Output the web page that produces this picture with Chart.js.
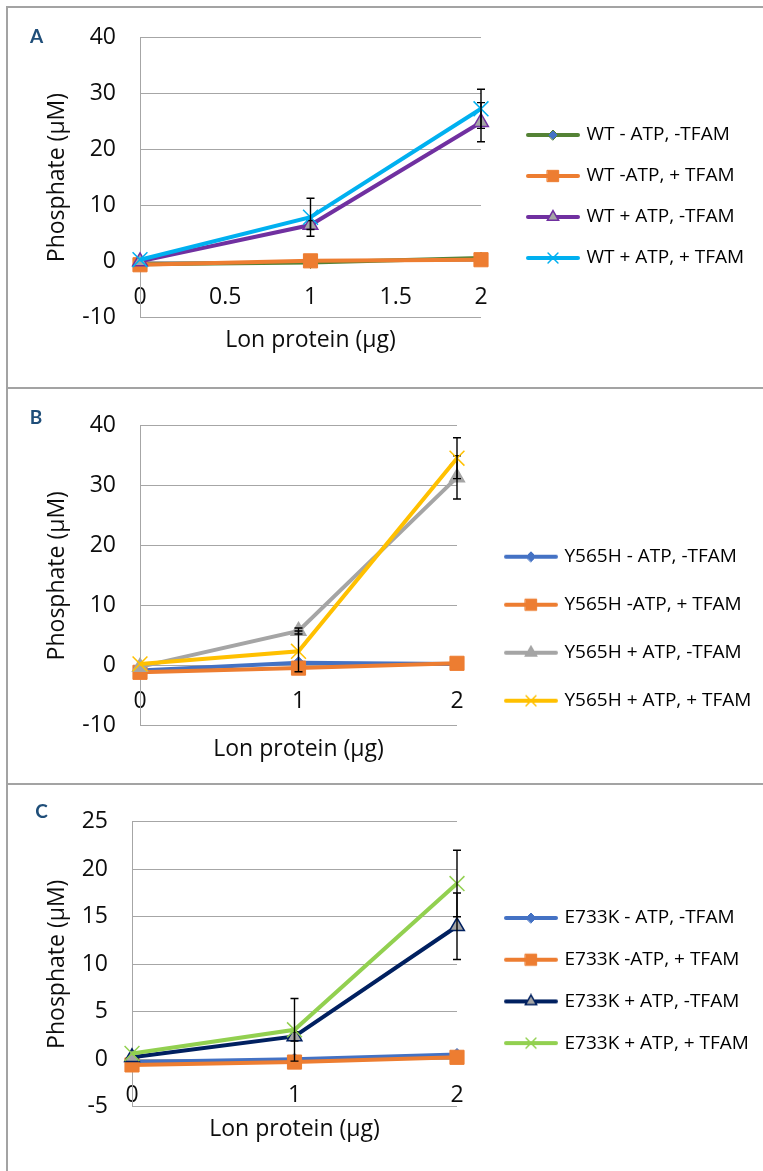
<!DOCTYPE html>
<html>
<head>
<meta charset="utf-8">
<title>Lon ATPase activity</title>
<script src="https://cdn.jsdelivr.net/npm/chart.js@4.4.1/dist/chart.umd.min.js"></script>
<style>
  html, body { margin: 0; padding: 0; background: #fff; }
  #page { position: relative; width: 763px; height: 1171px; overflow: hidden; background: #fff; }
  canvas { position: absolute; left: 0; }
  .rule { position: absolute; background: #a3a3a3; z-index: 2; }
  .tag { position: absolute; z-index: 3; font: bold 19px Lato, "Open Sans", sans-serif; line-height: 19px;
         color: #1f4e79; transform: translate(-50%, -50%); }
</style>
</head>
<body>
<div id="page">
  <canvas id="panelA" width="763" height="388" style="top:0px"></canvas>
  <canvas id="panelB" width="763" height="395" style="top:388px"></canvas>
  <canvas id="panelC" width="763" height="387" style="top:784px"></canvas>

  <div class="rule" style="left:6px; top:6px; width:757px; height:1.5px"></div>
  <div class="rule" style="left:6px; top:6px; width:1.5px; height:1165px"></div>
  <div class="rule" style="left:6px; top:387px; width:757px; height:1.5px"></div>
  <div class="rule" style="left:6px; top:783px; width:757px; height:1.5px"></div>

  <div class="tag" style="left:36.5px; top:35px">A</div>
  <div class="tag" style="left:36px; top:416px">B</div>
  <div class="tag" style="left:41.5px; top:810px">C</div>
</div>

<script>
// ---- amounts of Lon protein on the x axis (µg) ----
const lonProteinUg = [0, 1, 2];

// ---- axis ticks ----
const xTicksA = [0, 0.5, 1, 1.5, 2];
const xTickLabelsA = ['0', '0.5', '1', '1.5', '2'];
const xTicksBC = [0, 1, 2];
const xTickLabelsBC = ['0', '1', '2'];
const yTicksAB = [-10, 0, 10, 20, 30, 40];
const yTickLabelsAB = ['-10', '0', '10', '20', '30', '40'];
const yTicksC = [-5, 0, 5, 10, 15, 20, 25];
const yTickLabelsC = ['-5', '0', '5', '10', '15', '20', '25'];

// ---- panel A: wild type, phosphate released (µM) ----
const wtLabels = ['WT - ATP, -TFAM', 'WT -ATP, + TFAM', 'WT + ATP, -TFAM', 'WT + ATP, + TFAM'];
const wtNoAtpNoTfam = [-0.5, -0.2, 0.6];
const wtNoAtpTfam   = [-0.6, 0.1, 0.3];
const wtAtpNoTfam   = [0.0, 6.5, 24.9];
const wtAtpTfam     = [0.3, 7.9, 27.3];
const wtAtpNoTfamErr = [0, 0.8, 3.5];
const wtAtpTfamErr   = [0, 3.4, 3.5];

// ---- panel B: Y565H ----
const y565hLabels = ['Y565H - ATP, -TFAM', 'Y565H -ATP, + TFAM', 'Y565H + ATP, -TFAM', 'Y565H + ATP, + TFAM'];
const y565hNoAtpNoTfam = [-0.8, 0.5, 0.3];
const y565hNoAtpTfam   = [-1.1, -0.4, 0.4];
const y565hAtpNoTfam   = [-0.2, 5.8, 31.4];
const y565hAtpTfam     = [0.3, 2.4, 34.6];
const y565hAtpNoTfamErr = [0, 0.5, 3.6];
const y565hAtpTfamErr   = [0, 3.4, 3.4];

// ---- panel C: E733K ----
const e733kLabels = ['E733K - ATP, -TFAM', 'E733K -ATP, + TFAM', 'E733K + ATP, -TFAM', 'E733K + ATP, + TFAM'];
const e733kNoAtpNoTfam = [-0.3, 0.0, 0.5];
const e733kNoAtpTfam   = [-0.6, -0.3, 0.2];
const e733kAtpNoTfam   = [0.2, 2.4, 14.0];
const e733kAtpTfam     = [0.6, 3.1, 18.5];
const e733kAtpNoTfamErr = [0, 0.5, 3.5];
const e733kAtpTfamErr   = [0, 3.3, 3.5];

// ---- styling ----
const FONT = '"Open Sans", Lato, sans-serif';
const AXIS_SIZE = 23;
const LEGEND_SIZE = 19;
const GRID = '#a6a6a6';
const INK = '#0d0d0d';
const GREY_FILL = '#a5a5a5';

function diamond(fill, stroke) { return { style: 'rectRot', r: 6, legendR: 5, fill, stroke, bw: 1 }; }
function square(c) { return { style: 'rect', r: 10, legendR: 8, fill: c, stroke: c, bw: 1 }; }
function triangle(fill, stroke) { return { style: 'triangle', r: 8.5, legendR: 6.5, fill, stroke, bw: 1.5 }; }
function cross(c) { return { style: 'crossRot', r: 10.5, legendR: 7, fill: c, stroke: c, bw: 1.5 }; }

// line + marker swatch used by the legend
function legendSwatch(color, m) {
  const c = document.createElement('canvas');
  c.width = 54; c.height = 16;
  const g = c.getContext('2d');
  g.strokeStyle = color; g.lineWidth = 4; g.lineCap = 'round';
  g.beginPath(); g.moveTo(2, 8); g.lineTo(52, 8); g.stroke();
  g.fillStyle = m.fill; g.strokeStyle = m.stroke; g.lineWidth = m.bw;
  Chart.helpers.drawPoint(g, { pointStyle: m.style, radius: m.legendR, rotation: 0, borderWidth: m.bw }, 27, 8);
  return c;
}

// vertical error bars, painted right after their own series
const errorBarPlugin = {
  id: 'errorBars',
  afterDatasetDraw(chart, args) {
    const ds = chart.data.datasets[args.index];
    if (!ds.errorBars) return;
    const { ctx } = chart;
    const xs = chart.scales.x, ys = chart.scales.y;
    ctx.save();
    ctx.strokeStyle = '#000';
    ctx.lineWidth = 1.4;
    ds.data.forEach((p, i) => {
      const e = ds.errorBars[i];
      if (!e) return;
      const px = xs.getPixelForValue(p.x);
      const top = ys.getPixelForValue(p.y + e);
      const bot = ys.getPixelForValue(p.y - e);
      ctx.beginPath();
      ctx.moveTo(px, top); ctx.lineTo(px, bot);
      ctx.moveTo(px - 4, top); ctx.lineTo(px + 4, top);
      ctx.moveTo(px - 4, bot); ctx.lineTo(px + 4, bot);
      ctx.stroke();
    });
    ctx.restore();
  }
};

// puts the legend column at a fixed spot beside the plot
const legendPlacer = {
  id: 'legendPlacer',
  afterLayout(chart, args, opts) {
    const lg = chart.legend;
    if (!lg) return;
    const h = lg.height;
    lg.left = opts.x - opts.pad;
    lg.right = chart.width;
    lg.width = lg.right - lg.left;
    lg.top = opts.y - LEGEND_SIZE / 2 - opts.pad;
    lg.bottom = lg.top + h;
  }
};

function makePanel(id, p) {
  const datasets = p.series.map((s, i) => ({
    label: s.label,
    data: lonProteinUg.map((d, k) => ({ x: d, y: s.values[k] })),
    errorBars: s.errors || null,
    borderColor: s.color,
    borderWidth: 4,
    tension: 0,
    fill: false,
    clip: false,
    pointStyle: s.marker.style,
    pointRadius: s.marker.r,
    pointHoverRadius: s.marker.r,
    pointBackgroundColor: s.marker.fill,
    pointBorderColor: s.marker.stroke,
    pointBorderWidth: s.marker.bw,
    order: p.series.length - i
  }));
  const swatches = p.series.map(s => legendSwatch(s.color, s.marker));

  return new Chart(document.getElementById(id), {
    type: 'line',
    data: { datasets },
    plugins: [errorBarPlugin, legendPlacer],
    options: {
      responsive: false,
      animation: false,
      devicePixelRatio: 1,
      layout: { padding: { top: p.areaTop, left: 0, right: p.padRight, bottom: p.xAxisHeight } },
      scales: {
        x: {
          type: 'linear',
          position: { y: 0 },          // horizontal axis crosses the value axis at 0
          min: 0, max: 2,
          grid: { display: false, drawTicks: false },
          border: { display: false },
          afterBuildTicks: s => { s.ticks = p.xTicks.map(v => ({ value: v })); },
          ticks: {
            autoSkip: false, maxRotation: 0, padding: 22,
            color: INK, font: { family: FONT, size: AXIS_SIZE },
            callback: (v, i) => p.xTickLabels[i]
          },
          title: {
            display: true, text: 'Lon protein (µg)', color: INK,
            font: { family: FONT, size: AXIS_SIZE },
            padding: { top: 0, bottom: p.xTitlePad }
          },
          afterFit: s => { s.height = p.xAxisHeight; }
        },
        y: {
          type: 'linear',
          position: 'left',
          min: p.yTicks[0], max: p.yTicks[p.yTicks.length - 1],
          grid: { color: GRID, lineWidth: 1, drawTicks: false },
          border: { display: true, color: GRID, width: 1 },
          afterBuildTicks: s => { s.ticks = p.yTicks.map(v => ({ value: v })); },
          ticks: {
            padding: 24, color: INK, font: { family: FONT, size: AXIS_SIZE },
            callback: (v, i) => p.yTickLabels[i]
          },
          title: {
            display: true, text: 'Phosphate (µM)', color: INK,
            font: { family: FONT, size: AXIS_SIZE },
            padding: { top: 44, bottom: 0 }
          },
          afterFit: s => { s.width = p.yAxisWidth; }
        }
      },
      plugins: {
        tooltip: { enabled: false },
        legendPlacer: { x: p.legendX, y: p.legendY, pad: p.legendPad },
        legend: {
          display: true,
          position: 'right',
          align: 'start',
          maxWidth: 150,
          labels: {
            usePointStyle: true,
            pointStyleWidth: 48,
            padding: p.legendPad,
            color: '#000',
            font: { family: FONT, size: LEGEND_SIZE },
            generateLabels: () => p.series.map((s, i) => ({
              text: s.label,
              pointStyle: swatches[i],
              datasetIndex: i,
              hidden: false,
              lineWidth: 0,
              fillStyle: 'rgba(0,0,0,0)',
              strokeStyle: 'rgba(0,0,0,0)',
              fontColor: '#000'
            }))
          }
        }
      }
    }
  });
}

makePanel('panelA', {
  series: [
    { label: wtLabels[0], values: wtNoAtpNoTfam, color: '#548235', marker: diamond('#4472c4', '#548235') },
    { label: wtLabels[1], values: wtNoAtpTfam, color: '#ed7d31', marker: square('#ed7d31') },
    { label: wtLabels[2], values: wtAtpNoTfam, errors: wtAtpNoTfamErr, color: '#7030a0', marker: triangle(GREY_FILL, '#7030a0') },
    { label: wtLabels[3], values: wtAtpTfam, errors: wtAtpTfamErr, color: '#00b0f0', marker: cross('#00b0f0') }
  ],
  xTicks: xTicksA, xTickLabels: xTickLabelsA,
  yTicks: yTicksAB, yTickLabels: yTickLabelsAB,
  areaTop: 36.7, padRight: 132, yAxisWidth: 140,
  xAxisHeight: 70.7, xTitlePad: -21.9,
  legendX: 529, legendY: 135, legendPad: 22
});

makePanel('panelB', {
  series: [
    { label: y565hLabels[0], values: y565hNoAtpNoTfam, color: '#4472c4', marker: diamond('#4472c4', '#4472c4') },
    { label: y565hLabels[1], values: y565hNoAtpTfam, color: '#ed7d31', marker: square('#ed7d31') },
    { label: y565hLabels[2], values: y565hAtpNoTfam, errors: y565hAtpNoTfamErr, color: '#a5a5a5', marker: triangle(GREY_FILL, '#a5a5a5') },
    { label: y565hLabels[3], values: y565hAtpTfam, errors: y565hAtpTfamErr, color: '#ffc000', marker: cross('#ffc000') }
  ],
  xTicks: xTicksBC, xTickLabels: xTickLabelsBC,
  yTicks: yTicksAB, yTickLabels: yTickLabelsAB,
  areaTop: 29.3, padRight: 156, yAxisWidth: 140,
  xAxisHeight: 57.3, xTitlePad: -40.5,
  legendX: 507, legendY: 168.7, legendPad: 29
});

makePanel('panelC', {
  series: [
    { label: e733kLabels[0], values: e733kNoAtpNoTfam, color: '#4472c4', marker: diamond('#4472c4', '#4472c4') },
    { label: e733kLabels[1], values: e733kNoAtpTfam, color: '#ed7d31', marker: square('#ed7d31') },
    { label: e733kLabels[2], values: e733kAtpNoTfam, errors: e733kAtpNoTfamErr, color: '#002060', marker: triangle(GREY_FILL, '#002060') },
    { label: e733kLabels[3], values: e733kAtpTfam, errors: e733kAtpTfamErr, color: '#92d050', marker: cross('#92d050') }
  ],
  xTicks: xTicksBC, xTickLabels: xTickLabelsBC,
  yTicks: yTicksC, yTickLabels: yTickLabelsC,
  areaTop: 29.3, padRight: 156, yAxisWidth: 132,
  xAxisHeight: 64.3, xTitlePad: -20.2,
  legendX: 507, legendY: 134, legendPad: 22.7
});
</script>
</body>
</html>
